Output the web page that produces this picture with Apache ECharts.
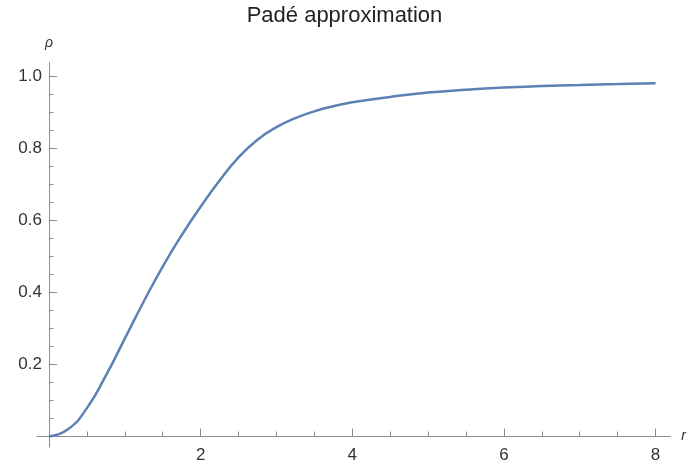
<!DOCTYPE html>
<html lang="en">
<head>
    <meta charset="utf-8" />
    <title>Padé approximation</title>
    <script type="text/javascript" src="https://cdn.jsdelivr.net/npm/echarts@6/dist/echarts.min.js"></script>
    <style>
        html, body { margin: 0; padding: 0; background: #fff; }
        #chart { width: 689px; height: 468px; }
    </style>
</head>
<body>
    <div id="chart"></div>
    <script type="text/javascript">
        // values
        var rValues = [0, 0.25, 0.5, 0.75, 1, 1.25, 1.5, 1.75, 2, 2.25, 2.5, 2.75, 3, 3.25, 3.5, 3.75, 4, 4.5, 5, 5.5, 6, 6.5, 7, 7.5, 8];
        var rhoValues = [0, 0.02, 0.079, 0.169, 0.272, 0.375, 0.472, 0.559, 0.638, 0.711, 0.775, 0.824, 0.859, 0.884, 0.903, 0.917, 0.928, 0.943, 0.955, 0.963, 0.969, 0.973, 0.976, 0.979, 0.981];

        var xMajorTicks = [2, 4, 6, 8];
        var xMinorTicks = [0.5, 1, 1.5, 2.5, 3, 3.5, 4.5, 5, 5.5, 6.5, 7, 7.5];
        var yMajorTicks = [0.2, 0.4, 0.6, 0.8, 1.0];
        var yMinorTicks = [0.05, 0.1, 0.15, 0.25, 0.3, 0.35, 0.45, 0.5, 0.55, 0.65, 0.7, 0.75, 0.85, 0.9, 0.95];

        var seriesData = [];
        for (var i = 0; i < rValues.length; i++) {
            seriesData.push([rValues[i], rhoValues[i]]);
        }

        var axisColor = '#8c8c8c';
        var labelColor = '#333';
        var xMin = -0.158, xMax = 8.195;
        var yMin = -0.029, yMax = 1.038;

        var chart = echarts.init(document.getElementById('chart'));

        var option = {
            animation: false,
            title: {
                text: 'Padé approximation',
                left: 'center',
                top: 0,
                textStyle: {
                    fontFamily: 'Liberation Sans',
                    fontSize: 22,
                    fontWeight: 'normal',
                    color: '#222'
                }
            },
            grid: {
                left: 37,
                right: 18,
                top: 62.7,
                bottom: 21,
                containLabel: false
            },
            xAxis: [{
                type: 'value',
                min: xMin,
                max: xMax,
                name: 'r',
                nameLocation: 'end',
                nameGap: 11,
                nameTextStyle: {
                    fontFamily: 'Liberation Sans',
                    fontStyle: 'italic',
                    fontSize: 14,
                    color: labelColor,
                    verticalAlign: 'middle'
                },
                axisLine: {
                    onZero: true,
                    onZeroAxisIndex: 0,
                    lineStyle: { color: axisColor, width: 1 }
                },
                axisTick: {
                    customValues: xMajorTicks,
                    inside: true,
                    length: 8,
                    lineStyle: { color: axisColor }
                },
                axisLabel: {
                    customValues: xMajorTicks,
                    margin: 0,
                    fontFamily: 'Liberation Sans',
                    fontSize: 17,
                    color: labelColor
                },
                splitLine: { show: false }
            }, {
                type: 'value',
                position: 'bottom',
                min: xMin,
                max: xMax,
                axisLine: { show: false, onZero: true, onZeroAxisIndex: 0 },
                axisTick: {
                    customValues: xMinorTicks,
                    inside: true,
                    length: 5,
                    lineStyle: { color: axisColor }
                },
                axisLabel: { show: false },
                splitLine: { show: false }
            }],
            yAxis: [{
                type: 'value',
                min: yMin,
                max: yMax,
                name: 'ρ',
                nameLocation: 'end',
                nameGap: 13,
                nameTextStyle: {
                    fontFamily: 'Liberation Sans',
                    fontStyle: 'italic',
                    fontSize: 14,
                    color: labelColor,
                    align: 'center'
                },
                axisLine: {
                    onZero: true,
                    onZeroAxisIndex: 0,
                    lineStyle: { color: axisColor, width: 1 }
                },
                axisTick: {
                    customValues: yMajorTicks,
                    inside: true,
                    length: 8,
                    lineStyle: { color: axisColor }
                },
                axisLabel: {
                    customValues: yMajorTicks,
                    margin: -5,
                    fontFamily: 'Liberation Sans',
                    fontSize: 17,
                    color: labelColor,
                    formatter: function (v) { return v.toFixed(1); }
                },
                splitLine: { show: false }
            }, {
                type: 'value',
                position: 'left',
                min: yMin,
                max: yMax,
                axisLine: { show: false, onZero: true, onZeroAxisIndex: 0 },
                axisTick: {
                    customValues: yMinorTicks,
                    inside: true,
                    length: 4.5,
                    lineStyle: { color: axisColor }
                },
                axisLabel: { show: false },
                splitLine: { show: false }
            }],
            series: [{
                name: 'rho',
                type: 'line',
                xAxisIndex: 0,
                yAxisIndex: 0,
                smooth: 0.5,
                showSymbol: false,
                lineStyle: { color: '#5e81b5', width: 2.5 },
                data: seriesData
            }]
        };

        chart.setOption(option);
    </script>
</body>
</html>
